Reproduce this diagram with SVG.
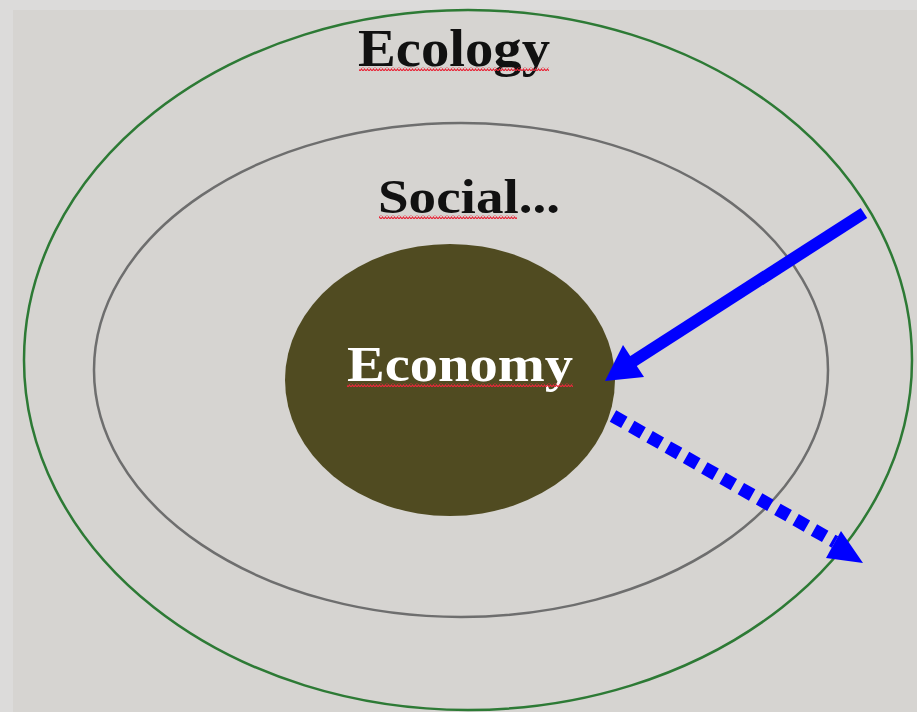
<svg xmlns="http://www.w3.org/2000/svg" width="917" height="712" viewBox="0 0 917 712">
<defs>
<style>
.lbl{font-family:"Liberation Serif","DejaVu Serif",serif;font-weight:bold;text-anchor:middle}
</style>
<pattern id="wave" width="6" height="4" patternUnits="userSpaceOnUse">
<path d="M0,3 L1.5,1 L3,3 L4.5,1 L6,3" fill="none" stroke="#e8283a" stroke-width="1.2"/>
</pattern>
</defs>
<rect width="917" height="712" fill="#dcdbda"/>
<rect x="13" y="10" width="904" height="702" fill="#d6d4d1"/>
<g id="ecology">
<ellipse cx="468" cy="360" rx="444" ry="350" fill="none" stroke="#2d7a35" stroke-width="2.5"/>
<text class="lbl" x="454" y="66" font-size="52" textLength="192" lengthAdjust="spacingAndGlyphs" fill="#111">Ecology</text>
<rect x="359" y="67" width="190" height="4" fill="url(#wave)"/>
</g>
<g id="social">
<ellipse cx="461" cy="370" rx="367" ry="247" fill="none" stroke="#6e6e6e" stroke-width="2.5"/>
<text class="lbl" x="469" y="213" font-size="48" textLength="182" lengthAdjust="spacingAndGlyphs" fill="#111">Social...</text>
<rect x="379" y="215" width="138" height="4" fill="url(#wave)"/>
</g>
<g id="economy">
<ellipse cx="450" cy="380" rx="165" ry="136" fill="#504b21"/>
<text class="lbl" x="460" y="381" font-size="50" textLength="226" lengthAdjust="spacingAndGlyphs" fill="#fff">Economy</text>
<rect x="347" y="383" width="226" height="4" fill="url(#wave)"/>
</g>
<g id="connectors">
<line x1="864" y1="213" x2="632" y2="362" stroke="#0000ff" stroke-width="12"/>
<polygon points="605,381 623,345 644,377" fill="#0000ff"/>
<line x1="613" y1="416" x2="835" y2="542" stroke="#0000ff" stroke-width="13" stroke-dasharray="13,8"/>
<polygon points="863,563 841,531 826,558" fill="#0000ff"/>
</g>
</svg>
